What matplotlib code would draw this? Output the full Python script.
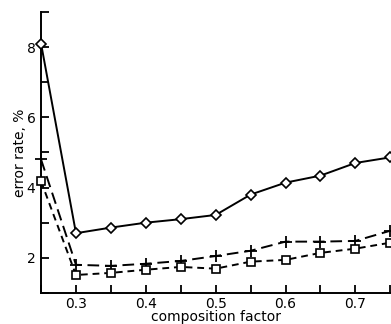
import matplotlib
matplotlib.use("Agg")
import matplotlib.pyplot as plt
from matplotlib.ticker import MultipleLocator, FixedLocator

x = [0.25, 0.30, 0.35, 0.40, 0.45, 0.50, 0.55, 0.60, 0.65, 0.70, 0.75]
diamond = [8.1, 2.7, 2.86, 3.0, 3.1, 3.22, 3.8, 4.14, 4.34, 4.7, 4.86]
plus = [4.8, 1.8, 1.77, 1.83, 1.91, 2.05, 2.2, 2.46, 2.46, 2.48, 2.77]
square = [4.18, 1.51, 1.57, 1.66, 1.74, 1.69, 1.89, 1.94, 2.14, 2.26, 2.43]
xticks = [0.3, 0.4, 0.5, 0.6, 0.7]
yticks = [2, 4, 6, 8]

plt.rcParams['font.family'] = ['DejaVu Sans']
fig = plt.figure(figsize=(3.91, 3.24), dpi=100)
ax = fig.add_axes([0.105, 0.096, 0.895, 0.867])

ax.plot(x, diamond, '-', color='black', lw=1.4, marker='D', ms=5,
        mfc='white', mec='black', mew=1.2, clip_on=False, zorder=3)
ax.plot(x, plus, color='black', lw=1.4, linestyle=(0, (6, 3)), marker='+', ms=8,
        mew=1.3, clip_on=False, zorder=3)
ax.plot(x, square, color='black', lw=1.4, linestyle=(0, (3.5, 2.5)), marker='s', ms=6,
        mfc='white', mec='black', mew=1.2, clip_on=False, zorder=3)

ax.set_xlim(0.25, 0.751)
ax.set_ylim(1, 9)
ax.spines['top'].set_visible(False)
ax.spines['right'].set_visible(False)
for s in ['left', 'bottom']:
    ax.spines[s].set_linewidth(1.4)

ax.xaxis.set_major_locator(FixedLocator(xticks))
ax.xaxis.set_minor_locator(MultipleLocator(0.05))
ax.yaxis.set_major_locator(FixedLocator(yticks))
ax.yaxis.set_minor_locator(MultipleLocator(1))
ax.set_xticklabels([f"{v:.1f}" for v in xticks])
ax.set_yticklabels([str(v) for v in yticks])
ax.tick_params(axis='both', which='both', direction='in', width=1.3, length=6,
               labelsize=10)
ax.tick_params(axis='x', pad=3)
ax.tick_params(axis='y', pad=4)

ax.set_xlabel('composition factor', fontsize=10, labelpad=-1)
ax.set_ylabel('error rate, %', fontsize=10, labelpad=0)

fig.savefig('out.png', dpi=100)
